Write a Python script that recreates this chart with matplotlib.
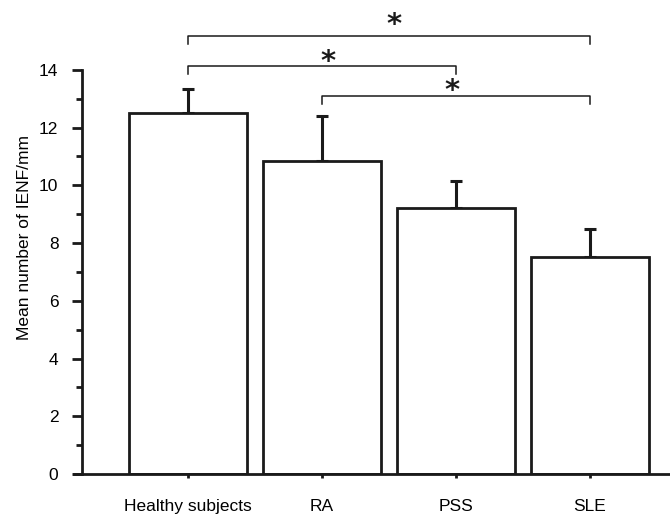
import matplotlib
matplotlib.use('Agg')
import matplotlib.pyplot as plt
from matplotlib.ticker import FixedLocator

plt.rcParams['font.family'] = ['Liberation Sans', 'DejaVu Sans']

groups = ['Healthy subjects', 'RA', 'PSS', 'SLE']
means = [12.5, 10.85, 9.2, 7.5]
errors = [0.85, 1.55, 0.95, 1.0]

# significance brackets: (left group, right group, bracket height, star x, star y)
brackets = [
    (0, 3, 15.18, 1.54, 15.56),
    (0, 2, 14.14, 1.045, 14.28),
    (1, 3, 13.1, 1.97, 13.27),
]

ink = '#1a1a1a'
fig = plt.figure(figsize=(6.70, 5.15), dpi=100)
ax = fig.add_axes([74 / 670, 41 / 515, 596 / 670, 474 / 515])

x = list(range(len(groups)))
ax.bar(x, means, width=0.88, color='white', edgecolor=ink, linewidth=2.0, zorder=2)
ax.errorbar(x, means, yerr=[[0] * len(errors), errors], fmt='none', ecolor=ink,
            elinewidth=2.2, capsize=4, capthick=2.2, zorder=1)

for left, right, h, sx, sy in brackets:
    ax.plot([left, left, right, right], [h - 0.28, h, h, h - 0.28], color=ink, lw=1.1,
            clip_on=False)
    ax.text(sx, sy, '*', ha='center', va='center', fontsize=21, color=ink,
            family='DejaVu Sans', weight='bold')

ax.set_xlim(-0.85, 3.6)
ax.set_ylim(0, 16.42)
ax.spines['top'].set_visible(False)
ax.spines['right'].set_visible(False)
ax.spines['left'].set_position(('data', -0.79))
ax.spines['left'].set_bounds(0, 14)
for side in ('left', 'bottom'):
    ax.spines[side].set_linewidth(2.0)
    ax.spines[side].set_color(ink)

ax.set_yticks(range(0, 15, 2))
ax.yaxis.set_minor_locator(FixedLocator(range(1, 14, 2)))
ax.tick_params(axis='y', which='major', length=7, width=2.0, labelsize=12.5, pad=10,
               color=ink)
ax.tick_params(axis='y', which='minor', length=4, width=2.0, color=ink)
ax.set_xticks(x)
ax.set_xticklabels(groups)
ax.tick_params(axis='x', length=3, width=2.0, labelsize=12.5, pad=15, color=ink)

ax.set_ylabel('Mean number of IENF/mm', fontsize=12.5, labelpad=5)

fig.savefig('out.png', dpi=100)
